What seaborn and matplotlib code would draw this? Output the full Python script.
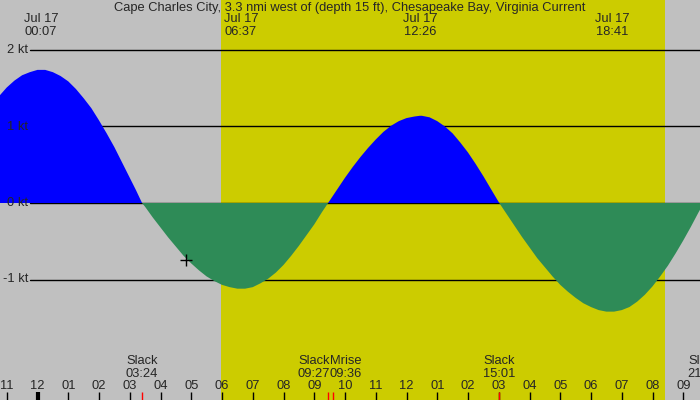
import matplotlib
matplotlib.use("Agg")
import matplotlib.pyplot as plt
import seaborn as sns
import numpy as np

# tidal current (kt), + flood / - ebb, time in hours from midnight Jul 17
hours = [-1.22, -1.0, -0.75, -0.5, -0.25, 0.0, 0.117, 0.25, 0.5, 0.75, 1.0, 1.25, 1.5,
         1.75, 2.0, 2.25, 2.5, 2.75, 3.0, 3.2, 3.4,
         3.5, 3.75, 4.0, 4.25, 4.5, 4.75, 5.0, 5.25, 5.5, 5.75, 6.0, 6.25, 6.5, 6.617,
         6.75, 7.0, 7.25, 7.5, 7.75, 8.0, 8.25, 8.5, 8.75, 9.0, 9.25, 9.45,
         9.5, 9.75, 10.0, 10.25, 10.5, 10.75, 11.0, 11.25, 11.5, 11.75, 12.0, 12.25, 12.433,
         12.5, 12.75, 13.0, 13.25, 13.5, 13.75, 14.0, 14.25, 14.5, 14.75, 15.017,
         15.25, 15.5, 15.75, 16.0, 16.25, 16.5, 16.75, 17.0, 17.25, 17.5, 17.75, 18.0,
         18.25, 18.5, 18.683, 18.75, 19.0, 19.25, 19.5, 19.75, 20.0, 20.25, 20.5, 20.75,
         21.0, 21.25, 21.5, 21.67]
knots = [1.41, 1.51, 1.60, 1.67, 1.71, 1.74, 1.74, 1.74, 1.71, 1.66, 1.59, 1.49, 1.37,
         1.24, 1.08, 0.91, 0.73, 0.53, 0.33, 0.17, 0.0,
         -0.05, -0.19, -0.32, -0.45, -0.57, -0.69, -0.79, -0.88, -0.96, -1.02, -1.07, -1.10, -1.12, -1.12,
         -1.12, -1.10, -1.05, -0.99, -0.91, -0.81, -0.69, -0.56, -0.42, -0.28, -0.12, 0.0,
         0.03, 0.18, 0.33, 0.47, 0.60, 0.72, 0.83, 0.93, 1.01, 1.07, 1.11, 1.13, 1.14,
         1.14, 1.12, 1.07, 1.00, 0.91, 0.79, 0.66, 0.51, 0.35, 0.18, 0.0,
         -0.14, -0.29, -0.44, -0.58, -0.72, -0.84, -0.96, -1.07, -1.16, -1.24, -1.31, -1.36,
         -1.40, -1.42, -1.42, -1.42, -1.40, -1.36, -1.29, -1.20, -1.09, -0.96, -0.82, -0.66,
         -0.49, -0.31, -0.12, 0.0]

# max flood / max ebb labels on top
peak_times = [0.117, 6.617, 12.433, 18.683]
peak_labels = ["00:07", "06:37", "12:26", "18:41"]

# slack water + moonrise events at the bottom
slack_times = [3.4, 9.45, 15.017, 21.67]
slack_labels = ["03:24", "09:27", "15:01", "21:40"]
moonrise_time = 9.6
moonrise_label = "09:36"

sunrise = 5.97
sunset = 20.4

hour_ticks = list(range(-1, 22))
hour_labels = ["11", "12", "01", "02", "03", "04", "05", "06", "07", "08", "09", "10",
               "11", "12", "01", "02", "03", "04", "05", "06", "07", "08", "09"]

grid_levels = [2, 1, 0, -1]
grid_labels = ["2 kt", "1 kt", "0 kt", "-1 kt"]

now_time = 4.83
now_level = -0.74

title = "Cape Charles City, 3.3 nmi west of (depth 15 ft), Chesapeake Bay, Virginia Current"

sns.set_style("white")
plt.rcParams["font.family"] = ["Liberation Sans", "DejaVu Sans"]
FS = 9.3

GRAY = "#c0c0c0"
YELLOW = "#cccc00"
BLUE = "#0000ff"
GREEN = "#2e8b57"

fig = plt.figure(figsize=(7, 4), dpi=100)
ax = fig.add_axes([0, 0, 1, 1])
ax.set_facecolor(GRAY)
for s in ax.spines.values():
    s.set_visible(False)

# daylight
ax.axvspan(sunrise, sunset, color=YELLOW, lw=0, zorder=0)

# grid lines (under the fill) + labels (on top)
for lev, lab in zip(grid_levels, grid_labels):
    ax.axhline(lev, xmin=30 / 700, xmax=1, color="black", lw=1, zorder=1)
    ax.text(28 / 700, lev, lab, transform=ax.get_yaxis_transform(), ha="right",
            va="center", fontsize=FS, zorder=4)

h = np.array(hours)
k = np.array(knots)
ax.fill_between(h, k, 0, where=k >= 0, interpolate=True, color=BLUE, lw=0, zorder=2)
ax.fill_between(h, k, 0, where=k <= 0, interpolate=True, color=GREEN, lw=0, zorder=2)

ax.plot([now_time], [now_level], marker="+", color="black", ms=9, mew=1, zorder=3)

# tick marks along the bottom
sns.rugplot(x=hour_ticks, height=0.02, color="black", linewidth=1, expand_margins=False, ax=ax)
sns.rugplot(x=[0], height=0.02, color="black", linewidth=3, expand_margins=False, ax=ax)
sns.rugplot(x=slack_times + [moonrise_time], height=0.02, color="red", linewidth=1,
            expand_margins=False, ax=ax)

tr = ax.get_xaxis_transform()
ax.text(0.5, 1 - 8 / 400, title, transform=ax.transAxes, ha="center", va="center", fontsize=FS)
for t, lab in zip(peak_times, peak_labels):
    ax.text(t, 1 - 19 / 400, "Jul 17", transform=tr, ha="center", va="center", fontsize=FS)
    ax.text(t, 1 - 32 / 400, lab, transform=tr, ha="center", va="center", fontsize=FS)

for t, lab in zip(slack_times, slack_labels):
    ha = "right" if t == 9.45 else "center"
    tx = 9.51 if t == 9.45 else t
    ax.text(tx, 1 - 361 / 400, "Slack", transform=tr, ha=ha, va="center", fontsize=FS)
    ax.text(tx, 1 - 374 / 400, lab, transform=tr, ha=ha, va="center", fontsize=FS)
ax.text(9.51, 1 - 361 / 400, "Mrise", transform=tr, ha="left", va="center", fontsize=FS)
ax.text(9.51, 1 - 374 / 400, moonrise_label, transform=tr, ha="left", va="center", fontsize=FS)

for t, lab in zip(hour_ticks, hour_labels):
    ax.text(t, 1 - 386 / 400, lab, transform=tr, ha="center", va="center", fontsize=FS)

ax.set_xlim(-37.5 / 30.75, 662.5 / 30.75)
ax.set_ylim(-197 / 76.5, 203 / 76.5)
ax.set_xticks([])
ax.set_yticks([])

fig.savefig("out.png", dpi=100, facecolor=GRAY)
